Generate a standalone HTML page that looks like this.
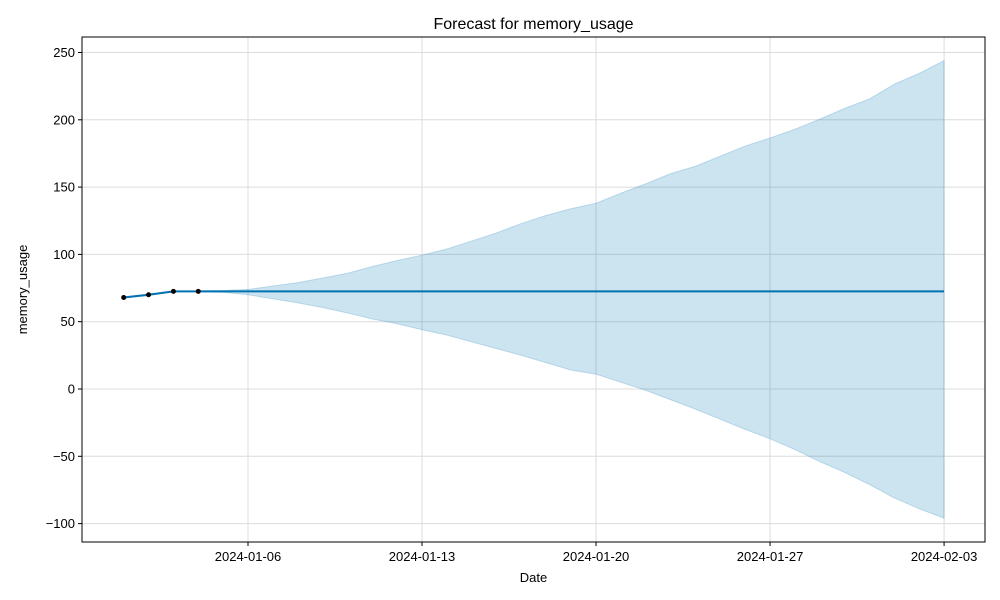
<!DOCTYPE html>
<html><head><meta charset="utf-8"><style>
html,body{margin:0;padding:0;background:#fff;}
svg{display:block;font-family:"Liberation Sans","DejaVu Sans",sans-serif;}
</style></head><body>
<svg id="chart" width="1000" height="600" xmlns="http://www.w3.org/2000/svg"></svg>
<script>
const dates = ["2024-01-01","2024-01-02","2024-01-03","2024-01-04","2024-01-05","2024-01-06","2024-01-07","2024-01-08","2024-01-09","2024-01-10","2024-01-11","2024-01-12","2024-01-13","2024-01-14","2024-01-15","2024-01-16","2024-01-17","2024-01-18","2024-01-19","2024-01-20","2024-01-21","2024-01-22","2024-01-23","2024-01-24","2024-01-25","2024-01-26","2024-01-27","2024-01-28","2024-01-29","2024-01-30","2024-01-31","2024-02-01","2024-02-02","2024-02-03"];
const yhat = [68,70,72.5,72.5,72.5,72.5,72.5,72.5,72.5,72.5,72.5,72.5,72.5,72.5,72.5,72.5,72.5,72.5,72.5,72.5,72.5,72.5,72.5,72.5,72.5,72.5,72.5,72.5,72.5,72.5,72.5,72.5,72.5,72.5];
const upper = [68.5,70.5,72.8,72.8,73.2,74,76.5,79,82.5,86,91,95.5,99.5,104,110,116,123,129,134,138,145.5,152.5,160,165.5,173,180.5,186.5,193,200.5,208.5,215.5,226.5,234.5,244];
const lower = [67.5,69.5,72.2,72.2,71.8,70,67,64,60.5,56.5,52,48.5,44,40,35,30,25,19.5,14,11,5,-1,-8,-15,-22.5,-30,-37,-45,-54,-62,-71,-81,-89,-96];
const obsDates = ["2024-01-01","2024-01-02","2024-01-03","2024-01-04"];
const obsValues = [68,70,72.5,72.5];
const xTicks = ["2024-01-06","2024-01-13","2024-01-20","2024-01-27","2024-02-03"];
const yTicks = [-100,-50,0,50,100,150,200,250];

const NS="http://www.w3.org/2000/svg";
const svg=document.getElementById('chart');
const L=82,R=985,T=37,B=542;
const d0=Date.parse("2024-01-01");
function xs(d){return 123.7+(Date.parse(d)-d0)/86400000*24.86;}
function ys(v){return 389-v*1.346;}
function el(tag,attrs,parent){const e=document.createElementNS(NS,tag);for(const k in attrs)e.setAttribute(k,attrs[k]);(parent||svg).appendChild(e);return e;}

// grid
yTicks.forEach(v=>{
  const g=el('line',{x1:L,x2:R,y1:ys(v),y2:ys(v),stroke:'#dcdcdc','stroke-width':1});
  
  
  el('line',{x1:L-4,x2:L,y1:ys(v),y2:ys(v),stroke:'#000'});
  const t=el('text',{x:L-7,y:ys(v)+4.5,'text-anchor':'end','font-size':13});
  t.textContent=v<0?'\u2212'+Math.abs(v):v;
  
  
});
xTicks.forEach(d=>{
  const g=el('line',{x1:xs(d),x2:xs(d),y1:T,y2:B,stroke:'#dcdcdc','stroke-width':1});
  
  
  el('line',{x1:xs(d),x2:xs(d),y1:B,y2:B+4,stroke:'#000'});
  const t=el('text',{x:xs(d),y:B+19,'text-anchor':'middle','font-size':13});
  t.textContent=d;
  
  
});

// band
let pts=dates.map((d,i)=>xs(d)+','+ys(upper[i]));
for(let i=dates.length-1;i>=0;i--)pts.push(xs(dates[i])+','+ys(lower[i]));
const band=el('polygon',{points:pts.join(' '),fill:'#0072B2','fill-opacity':0.2,stroke:'#0072B2','stroke-opacity':0.2});



// line
const line=el('polyline',{points:dates.map((d,i)=>xs(d)+','+ys(yhat[i])).join(' '),fill:'none',stroke:'#0072B2','stroke-width':2});



obsDates.forEach((d,i)=>{
  const c=el('circle',{cx:xs(d),cy:ys(obsValues[i]),r:2.5,fill:'#000'});
  
  
});

// frame
const f=el('rect',{x:L,y:T,width:R-L,height:B-T,fill:'none',stroke:'#000','stroke-width':1});



const title=el('text',{x:(L+R)/2,y:29,'text-anchor':'middle','font-size':16});
title.textContent='Forecast for memory_usage';


const xl=el('text',{x:(L+R)/2,y:582,'text-anchor':'middle','font-size':13});
xl.textContent='Date';


const yl=el('text',{x:0,y:0,'text-anchor':'middle','font-size':13,transform:'translate(27,'+((T+B)/2)+') rotate(-90)'});
yl.textContent='memory_usage';


</script>
</body></html>
